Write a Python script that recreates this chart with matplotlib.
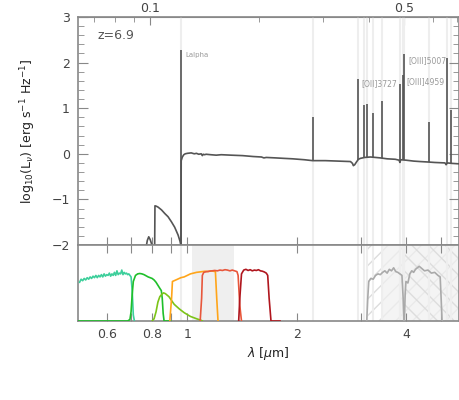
import numpy as np
import matplotlib
matplotlib.use("Agg")
import matplotlib.pyplot as plt
from matplotlib.ticker import FixedLocator, NullLocator, NullFormatter, FixedFormatter

redshift = 6.9

# ---- spectrum continuum (observed wavelength, micron ; log10 L_nu) ----
cont_wl = [0.50, 0.770, 0.776, 0.783, 0.790, 0.797, 0.800, 0.813, 0.8145, 0.822, 0.831,
           0.849, 0.867, 0.885, 0.904, 0.923, 0.943, 0.955, 0.9606, 0.962, 0.969,
           0.978, 0.987, 1.000, 1.025, 1.045, 1.060, 1.075, 1.092, 1.100, 1.106,
           1.115, 1.127, 1.160, 1.201, 1.240, 1.320, 1.420, 1.520, 1.600, 1.625,
           1.650, 1.750, 1.844, 1.950, 2.100, 2.213, 2.400, 2.600, 2.814, 2.850,
           2.866, 2.890, 2.923, 2.960, 2.997, 3.080, 3.192, 3.300, 3.401, 3.550,
           3.738, 3.830, 3.850, 3.870, 4.000, 4.200, 4.376, 4.600, 4.800, 5.124,
           5.160, 5.200, 5.350, 5.597]
cont_logL = [-3.0, -2.05, -1.90, -1.82, -1.88, -1.97, -2.05, -2.05, -1.14, -1.15, -1.17,
             -1.23, -1.31, -1.38, -1.49, -1.61, -1.78, -1.92, -2.02, -0.15, -0.07,
             -0.02, 0.00, 0.01, 0.02, 0.00, 0.01, -0.01, 0.00, -0.04, -0.01,
             -0.02, -0.01, -0.02, -0.03, -0.02, -0.03, -0.04, -0.06, -0.07, -0.09,
             -0.08, -0.09, -0.10, -0.11, -0.13, -0.15, -0.15, -0.16, -0.17, -0.21,
             -0.26, -0.24, -0.18, -0.12, -0.10, -0.08, -0.07, -0.08, -0.09, -0.11,
             -0.12, -0.14, -0.19, -0.13, -0.14, -0.16, -0.17, -0.18, -0.19, -0.20,
             -0.24, -0.20, -0.21, -0.22]

# ---- emission lines (rest wavelength in Angstrom ; peak log10 L_nu) ----
line_rest_A = [1216, 2800, 3727, 3869, 3968, 4102, 4340, 4861, 4959, 5007, 5876, 6563, 6724]
line_peak = [2.28, 0.80, 1.65, 1.06, 1.10, 0.89, 1.15, 1.53, 1.73, 2.19, 0.69, 2.11, 0.95]
line_names = {1216: "Lalpha", 3727: "[OII]3727", 4959: "[OIII]4959", 5007: "[OIII]5007"}

# ---- filter transmission curves (observed micron ; relative throughput) ----
f1_wl = [0.505, 0.510, 0.515, 0.520, 0.525, 0.530, 0.535, 0.540, 0.545, 0.550, 0.555, 0.560,
         0.565, 0.570, 0.575, 0.580, 0.585, 0.590, 0.595, 0.600, 0.605, 0.610, 0.615, 0.620,
         0.625, 0.630, 0.635, 0.640, 0.645, 0.650, 0.655, 0.660, 0.665, 0.670, 0.675, 0.680,
         0.685, 0.690, 0.695, 0.700, 0.705, 0.710, 0.715]
f1_T = [0.51, 0.55, 0.53, 0.56, 0.54, 0.57, 0.55, 0.58, 0.56, 0.59, 0.57, 0.60,
        0.57, 0.60, 0.58, 0.61, 0.58, 0.62, 0.59, 0.61, 0.60, 0.63, 0.59, 0.62,
        0.60, 0.64, 0.60, 0.66, 0.61, 0.63, 0.62, 0.67, 0.61, 0.64, 0.62, 0.63,
        0.61, 0.62, 0.60, 0.58, 0.40, 0.08, 0.0]
f2_wl = [0.50, 0.685, 0.695, 0.700, 0.705, 0.710, 0.720, 0.730, 0.740, 0.750, 0.760, 0.770,
         0.780, 0.790, 0.800, 0.810, 0.820, 0.830, 0.840, 0.848, 0.853, 0.858, 0.863, 0.90]
f2_T = [0.0, 0.0, 0.02, 0.12, 0.35, 0.52, 0.60, 0.62, 0.625, 0.62, 0.61, 0.595,
        0.58, 0.57, 0.56, 0.54, 0.51, 0.47, 0.43, 0.40, 0.30, 0.10, 0.0, 0.0]
f3_wl = [0.800, 0.810, 0.820, 0.830, 0.840, 0.850, 0.860, 0.870, 0.890, 0.920, 0.950,
         0.980, 1.020, 1.060, 1.090, 1.100]
f3_T = [0.0, 0.03, 0.12, 0.25, 0.32, 0.35, 0.37, 0.36, 0.32, 0.22, 0.16,
        0.11, 0.06, 0.03, 0.01, 0.0]
f4_wl = [0.895, 0.905, 0.910, 0.920, 0.940, 0.960, 0.980, 1.000, 1.020, 1.040, 1.060,
         1.080, 1.100, 1.120, 1.140, 1.160, 1.180, 1.195, 1.205, 1.215]
f4_T = [0.0, 0.30, 0.52, 0.53, 0.55, 0.57, 0.58, 0.60, 0.62, 0.63, 0.64,
        0.645, 0.65, 0.655, 0.65, 0.66, 0.655, 0.65, 0.30, 0.0]
f5_wl = [1.085, 1.095, 1.100, 1.110, 1.130, 1.150, 1.170, 1.190, 1.210, 1.230, 1.250,
         1.270, 1.290, 1.310, 1.330, 1.350, 1.370, 1.380, 1.395, 1.410]
f5_T = [0.0, 0.30, 0.60, 0.64, 0.65, 0.655, 0.66, 0.665, 0.66, 0.67, 0.665,
        0.675, 0.67, 0.66, 0.67, 0.66, 0.65, 0.60, 0.20, 0.0]
f6_wl = [1.385, 1.395, 1.410, 1.430, 1.450, 1.470, 1.490, 1.510, 1.530, 1.550, 1.570,
         1.590, 1.610, 1.630, 1.650, 1.665, 1.680, 1.700, 1.800]
f6_T = [0.0, 0.30, 0.62, 0.67, 0.68, 0.665, 0.675, 0.66, 0.67, 0.665, 0.675,
        0.66, 0.655, 0.645, 0.63, 0.60, 0.30, 0.0, 0.0]
f7_wl = [3.12, 3.14, 3.16, 3.20, 3.25, 3.30, 3.35, 3.40, 3.45, 3.50, 3.55, 3.60,
         3.65, 3.70, 3.75, 3.80, 3.85, 3.90, 3.93, 3.95]
f7_T = [0.0, 0.30, 0.52, 0.56, 0.55, 0.60, 0.62, 0.61, 0.64, 0.66, 0.63, 0.68,
        0.66, 0.70, 0.65, 0.64, 0.62, 0.60, 0.30, 0.0]
f8_wl = [3.96, 3.98, 4.00, 4.05, 4.10, 4.15, 4.20, 4.25, 4.30, 4.35, 4.40, 4.50,
         4.60, 4.70, 4.80, 4.90, 4.97, 5.00, 5.03]
f8_T = [0.0, 0.35, 0.52, 0.50, 0.62, 0.66, 0.64, 0.68, 0.70, 0.72, 0.70, 0.66,
        0.67, 0.63, 0.64, 0.60, 0.58, 0.30, 0.0]
filters = [(f1_wl, f1_T, "#3dcf9b"), (f2_wl, f2_T, "#1fbf2a"), (f3_wl, f3_T, "#7cc418"),
           (f4_wl, f4_T, "#ffa51a"), (f5_wl, f5_T, "#e8573c"), (f6_wl, f6_T, "#b0161e"),
           (f7_wl, f7_T, "#aaaaaa"), (f8_wl, f8_T, "#aaaaaa")]

bottom_ticks = [0.6, 0.7, 0.8, 0.9, 1, 2, 3, 4, 5]
bottom_labels = ["0.6", "", "0.8", "", "1", "2", "", "4", ""]
top_major = [0.1, 0.5]
top_minor = [0.07, 0.08, 0.09, 0.2, 0.3, 0.4, 0.6, 0.7]
xlim = (0.5, 5.6)

spine_c = "#888888"
text_c = "#444444"

fig = plt.figure(figsize=(4.6, 4.0), dpi=100)
W, H = 460.0, 400.0
ax = fig.add_axes([78 / W, 1 - 245 / H, (459 - 78) / W, (245 - 17) / H])
axb = fig.add_axes([78 / W, 1 - 321 / H, (459 - 78) / W, (321 - 245) / H])

line_obs = [r * (1 + redshift) / 1e4 for r in line_rest_A]

for a in (ax, axb):
    a.set_xscale("log")
    a.set_xlim(*xlim)
    for s in a.spines.values():
        s.set_color(spine_c)
        s.set_linewidth(1.2)
    for lw in line_obs:
        a.axvline(lw, color="#eeeeee", lw=1.5, zorder=1.5)
    a.xaxis.set_major_locator(FixedLocator(bottom_ticks))
    a.xaxis.set_minor_locator(NullLocator())

# ---- upper panel ----
ax.plot(cont_wl, cont_logL, color="#555555", lw=1.2, zorder=3)
base = np.interp(line_obs, cont_wl, cont_logL)
base[0] = -2.05
ax.vlines(line_obs, base, line_peak, color="#555555", lw=1.2, zorder=3)
ax.set_ylim(-2, 3)
ax.yaxis.set_major_locator(FixedLocator([-2, -1, 0, 1, 2, 3]))
ax.yaxis.set_minor_locator(FixedLocator(np.arange(-2, 3.01, 0.2)))
ax.tick_params(axis="y", which="major", direction="in", length=7, color=spine_c,
               left=True, right=True, labelsize=9, labelcolor=text_c, pad=6)
ax.tick_params(axis="y", which="minor", direction="in", length=4, color=spine_c,
               left=True, right=True)
ax.tick_params(axis="x", which="major", direction="in", length=6, color=spine_c,
               bottom=True, top=False, labelbottom=False)
ax.set_ylabel(r"log$_{10}$(L$_\nu$) [erg s$^{-1}$ Hz$^{-1}$]", fontsize=9, color="#222222")
ax.yaxis.set_label_coords(-0.105, 0.5)
ax.text(0.05, 0.92, "z=6.9", transform=ax.transAxes, fontsize=9, color="#555555",
        va="center", ha="left")

offsets = {1216: (3, -4), 3727: (2.5, -4), 4959: (2.5, -4.5), 5007: (3, -4.5)}
for r, wl, pk in zip(line_rest_A, line_obs, line_peak):
    if r in line_names:
        fs = 5 if r == 1216 else 5.5
        ax.annotate(line_names[r], xy=(wl, pk), xytext=offsets[r], textcoords="offset points",
                    fontsize=fs, color="#999999", ha="left", va="center", zorder=4)

secax = ax.secondary_xaxis("top", functions=(lambda x: x / (1 + redshift),
                                             lambda x: x * (1 + redshift)))
secax.xaxis.set_major_locator(FixedLocator(top_major))
secax.xaxis.set_major_formatter(FixedFormatter(["0.1", "0.5"]))
secax.xaxis.set_minor_locator(FixedLocator(top_minor))
secax.xaxis.set_minor_formatter(NullFormatter())
secax.tick_params(which="major", direction="in", length=6, color=spine_c, labelsize=9,
                  labelcolor=text_c, pad=1.5)
secax.tick_params(which="minor", direction="in", length=3.5, color=spine_c)
secax.spines["top"].set_color(spine_c)

# ---- lower panel ----
axb.set_ylim(0, 1)
axb.set_yticks([])
axb.axvspan(1.03, 1.343, color="#efefef", lw=0, zorder=1)
axb.axvspan(3.13, 5.6, facecolor="none", edgecolor="#dddddd", hatch="//", lw=0, zorder=1)
axb.axvspan(3.46, 5.6, facecolor="#f0f0f0", edgecolor="none", lw=0, alpha=0.7, zorder=1.1)
axb.axvspan(3.93, 5.6, facecolor="none", edgecolor="#dddddd", hatch="\\\\", lw=0, zorder=1.2)
for wl, T, c in filters:
    axb.plot(wl, T, color=c, lw=1.2, zorder=3)
axb.xaxis.set_major_formatter(FixedFormatter(bottom_labels))
axb.tick_params(axis="x", which="major", direction="in", length=6, color=spine_c,
                bottom=True, top=True, labelsize=9, labelcolor=text_c, pad=5)
axb.set_xlabel(r"$\lambda$ [$\mu$m]", fontsize=9, color="#222222", labelpad=3)

fig.savefig("out.png", dpi=100)
